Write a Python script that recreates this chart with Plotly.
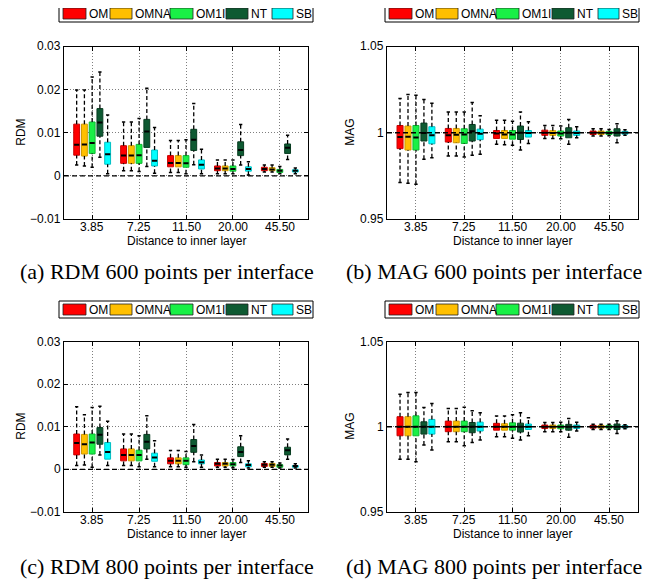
import plotly.graph_objects as go

W, H = 667, 585
OFF = 8  # page body margin that shifts the figure inside the browser window

SERIES = ["OM", "OMNA", "OM1I", "NT", "SB"]
COLORS = ["#FF0000", "#FFBF00", "#19F046", "#0E5A32", "#00FFFF"]
EDGES = ["#C80000", "#D09A00", "#10B834", "#083D21", "#00BFC4"]
GROUP_LABELS = ["3.85", "7.25", "11.50", "20.00", "45.50"]
RDM_TICKS = [-0.01, 0, 0.01, 0.02, 0.03]
RDM_TICKTEXT = ["\u22120.01", "0", "0.01", "0.02", "0.03"]
MAG_TICKS = [0.95, 1.0, 1.05]
MAG_TICKTEXT = ["0.95", "1", "1.05"]

# ---- (a) RDM, 600 points: rows = series (OM, OMNA, OM1I, NT, SB), cols = distance groups
RDM600_LO = [[0.0025, 0.0012, 0.0008, 0.0005, 0.0009],
             [0.0023, 0.0012, 0.0008, 0.0005, 0.0009],
             [0.0020, 0.0010, 0.0005, 0.0005, 0.0005],
             [0.0043, 0.0022, 0.0026, 0.0025, 0.0038],
             [0.0005, 0.0006, 0.0005, 0.0002, 0.0005]]
RDM600_Q1 = [[0.0048, 0.0029, 0.0021, 0.0012, 0.0012],
             [0.0046, 0.0029, 0.0021, 0.0012, 0.0012],
             [0.0052, 0.0029, 0.0020, 0.0011, 0.0008],
             [0.0092, 0.0066, 0.0059, 0.0047, 0.0052],
             [0.0027, 0.0023, 0.0016, 0.0011, 0.0009]]
RDM600_MED = [[0.0072, 0.0047, 0.0030, 0.0017, 0.0016],
              [0.0073, 0.0047, 0.0030, 0.0017, 0.0015],
              [0.0076, 0.0048, 0.0029, 0.0016, 0.0012],
              [0.0124, 0.0103, 0.0084, 0.0060, 0.0065],
              [0.0050, 0.0035, 0.0026, 0.0016, 0.0012]]
RDM600_Q3 = [[0.0120, 0.0070, 0.0047, 0.0023, 0.0020],
             [0.0120, 0.0070, 0.0047, 0.0023, 0.0019],
             [0.0125, 0.0073, 0.0047, 0.0023, 0.0015],
             [0.0156, 0.0131, 0.0108, 0.0079, 0.0074],
             [0.0078, 0.0060, 0.0037, 0.0021, 0.0014]]
RDM600_HI = [[0.0199, 0.0125, 0.0082, 0.0037, 0.0025],
             [0.0199, 0.0125, 0.0082, 0.0037, 0.0025],
             [0.0229, 0.0133, 0.0084, 0.0037, 0.0022],
             [0.0241, 0.0203, 0.0168, 0.0119, 0.0094],
             [0.0141, 0.0112, 0.0062, 0.0033, 0.0018]]

# ---- (b) MAG, 600 points
MAG600_LO = [[0.9711, 0.9865, 0.9933, 0.9967, 0.9981],
             [0.9707, 0.9865, 0.9930, 0.9967, 0.9981],
             [0.9701, 0.9859, 0.9927, 0.9965, 0.9983],
             [0.9846, 0.9869, 0.9900, 0.9933, 0.9942],
             [0.9855, 0.9875, 0.9938, 0.9971, 0.9985]]
MAG600_Q1 = [[0.9908, 0.9946, 0.9967, 0.9985, 0.9990],
             [0.9900, 0.9942, 0.9967, 0.9985, 0.9990],
             [0.9900, 0.9938, 0.9963, 0.9981, 0.9990],
             [0.9952, 0.9952, 0.9961, 0.9971, 0.9981],
             [0.9936, 0.9960, 0.9975, 0.9985, 0.9992]]
MAG600_MED = [[0.9975, 0.9985, 0.9996, 1.0000, 1.0000],
              [0.9977, 0.9988, 0.9990, 0.9998, 1.0000],
              [0.9973, 0.9990, 0.9990, 0.9996, 0.9998],
              [0.9998, 1.0008, 1.0000, 1.0000, 1.0000],
              [0.9985, 0.9994, 0.9998, 0.9998, 1.0000]]
MAG600_Q3 = [[1.0042, 1.0025, 1.0013, 1.0015, 1.0010],
             [1.0039, 1.0025, 1.0013, 1.0012, 1.0010],
             [1.0042, 1.0023, 1.0013, 1.0010, 1.0008],
             [1.0056, 1.0048, 1.0039, 1.0029, 1.0023],
             [1.0035, 1.0021, 1.0013, 1.0010, 1.0008]]
MAG600_HI = [[1.0198, 1.0121, 1.0073, 1.0042, 1.0023],
             [1.0222, 1.0121, 1.0073, 1.0042, 1.0023],
             [1.0218, 1.0120, 1.0067, 1.0039, 1.0019],
             [1.0193, 1.0175, 1.0121, 1.0077, 1.0052],
             [1.0171, 1.0098, 1.0064, 1.0035, 1.0017]]

# ---- (c) RDM, 800 points
RDM800_LO = [[0.0009, 0.0009, 0.0006, 0.0005, 0.0005],
             [0.0010, 0.0009, 0.0006, 0.0005, 0.0005],
             [0.0005, 0.0006, 0.0005, 0.0004, 0.0003],
             [0.0034, 0.0024, 0.0018, 0.0016, 0.0024],
             [0.0009, 0.0006, 0.0005, 0.0003, 0.0003]]
RDM800_Q1 = [[0.0034, 0.0020, 0.0013, 0.0008, 0.0007],
             [0.0036, 0.0020, 0.0013, 0.0008, 0.0007],
             [0.0036, 0.0020, 0.0011, 0.0008, 0.0005],
             [0.0059, 0.0048, 0.0040, 0.0030, 0.0034],
             [0.0024, 0.0019, 0.0013, 0.0006, 0.0005]]
RDM800_MED = [[0.0062, 0.0034, 0.0020, 0.0013, 0.0011],
              [0.0059, 0.0034, 0.0020, 0.0013, 0.0011],
              [0.0063, 0.0034, 0.0020, 0.0012, 0.0009],
              [0.0081, 0.0065, 0.0055, 0.0041, 0.0045],
              [0.0041, 0.0028, 0.0017, 0.0010, 0.0008]]
RDM800_Q3 = [[0.0083, 0.0048, 0.0027, 0.0016, 0.0014],
             [0.0082, 0.0048, 0.0027, 0.0016, 0.0014],
             [0.0083, 0.0045, 0.0027, 0.0016, 0.0011],
             [0.0098, 0.0082, 0.0070, 0.0053, 0.0052],
             [0.0063, 0.0038, 0.0022, 0.0013, 0.0009]]
RDM800_HI = [[0.0147, 0.0083, 0.0044, 0.0024, 0.0018],
             [0.0128, 0.0083, 0.0044, 0.0024, 0.0018],
             [0.0145, 0.0079, 0.0042, 0.0023, 0.0015],
             [0.0148, 0.0126, 0.0105, 0.0079, 0.0071],
             [0.0113, 0.0067, 0.0034, 0.0020, 0.0013]]

# ---- (d) MAG, 800 points
MAG800_LO = [[0.9809, 0.9912, 0.9941, 0.9971, 0.9984],
             [0.9809, 0.9912, 0.9941, 0.9971, 0.9984],
             [0.9795, 0.9889, 0.9932, 0.9971, 0.9984],
             [0.9893, 0.9908, 0.9922, 0.9938, 0.9961],
             [0.9863, 0.9922, 0.9947, 0.9975, 0.9988]]
MAG800_Q1 = [[0.9947, 0.9971, 0.9980, 0.9990, 0.9992],
             [0.9947, 0.9971, 0.9980, 0.9990, 0.9992],
             [0.9947, 0.9971, 0.9980, 0.9988, 0.9992],
             [0.9957, 0.9965, 0.9969, 0.9980, 0.9984],
             [0.9957, 0.9975, 0.9984, 0.9990, 0.9994]]
MAG800_MED = [[1.0, 1.0, 1.0, 1.0, 1.0],
              [1.0, 1.0, 1.0, 1.0, 1.0],
              [1.0, 1.0, 1.0, 1.0, 1.0],
              [1.0, 1.0, 1.0, 1.0, 1.0],
              [1.0, 1.0, 1.0, 1.0, 1.0]]
MAG800_Q3 = [[1.0059, 1.0033, 1.0020, 1.0010, 1.0008],
             [1.0059, 1.0033, 1.0018, 1.0010, 1.0008],
             [1.0064, 1.0033, 1.0023, 1.0010, 1.0008],
             [1.0029, 1.0025, 1.0021, 1.0014, 1.0016],
             [1.0043, 1.0027, 1.0016, 1.0010, 1.0006]]
MAG800_HI = [[1.0191, 1.0107, 1.0063, 1.0025, 1.0014],
             [1.0201, 1.0107, 1.0063, 1.0025, 1.0014],
             [1.0201, 1.0115, 1.0070, 1.0027, 1.0014],
             [1.0113, 1.0094, 1.0082, 1.0049, 1.0035],
             [1.0137, 1.0082, 1.0053, 1.0027, 1.0012]]

CAPTIONS = ["(a) RDM 600 points per interface", "(b) MAG 600 points per interface",
            "(c) RDM 800 points per interface", "(d) MAG 800 points per interface"]
YLABELS = ["RDM", "MAG", "RDM", "MAG"]
XLABEL = "Distance to inner layer"

# ------------------------------------------------------------------
SANS = "Liberation Sans, Arial, sans-serif"
SERIF = "Liberation Serif, Times New Roman, serif"

def fx(p):
    return (p - OFF) / W

def fy(p):
    return 1 - (p - OFF) / H

# pixel geometry of panels in the window: (left, right, top, bottom)
PANELS = [
    dict(box=(64, 308, 46.5, 219), ref="", ylab_dx=43),
    dict(box=(387, 638, 46.5, 219), ref="2", ylab_dx=37),
    dict(box=(64, 308, 341.5, 512), ref="3", ylab_dx=43),
    dict(box=(387, 638, 341.5, 512), ref="4", ylab_dx=37),
]
DATA = [
    (RDM600_LO, RDM600_Q1, RDM600_MED, RDM600_Q3, RDM600_HI),
    (MAG600_LO, MAG600_Q1, MAG600_MED, MAG600_Q3, MAG600_HI),
    (RDM800_LO, RDM800_Q1, RDM800_MED, RDM800_Q3, RDM800_HI),
    (MAG800_LO, MAG800_Q1, MAG800_MED, MAG800_Q3, MAG800_HI),
]
IS_MAG = [False, True, False, True]
LEGEND_POS = [(59, 5), (385, 5), (59, 301), (385, 301)]
CAPTION_POS = [(167, 271), (494, 271), (167, 566), (494, 566)]

D = 0.165     # spacing between boxes within a group
BW = 0.125    # box width
CAP = 0.035
MEDW = 0.055

fig = go.Figure()

for k, (panel, data) in enumerate(zip(PANELS, DATA)):
    xa, ya = "x" + panel["ref"], "y" + panel["ref"]
    lo, q1, med, q3, hi = data
    for s, name in enumerate(SERIES):
        off = (s - 2) * D
        xs = [g + 1 + off for g in range(len(GROUP_LABELS))]
        wx, wy, cx, cy, mx, my = [], [], [], [], [], []
        for g, x in enumerate(xs):
            wx += [x, x, None, x, x, None]
            wy += [q3[s][g], hi[s][g], None, lo[s][g], q1[s][g], None]
            cx += [x - CAP, x + CAP, None, x - CAP, x + CAP, None]
            cy += [hi[s][g], hi[s][g], None, lo[s][g], lo[s][g], None]
            mx += [x - MEDW, x + MEDW, None]
            my += [med[s][g], med[s][g], None]
        fig.add_trace(go.Scatter(x=wx, y=wy, mode="lines", xaxis=xa, yaxis=ya,
                                 line=dict(color="black", width=1.3, dash="4px,2.5px"),
                                 showlegend=False, hoverinfo="skip"))
        fig.add_trace(go.Bar(x=xs, y=[q3[s][g] - q1[s][g] for g in range(len(xs))],
                             base=q1[s], width=BW, xaxis=xa, yaxis=ya, name=name,
                             marker=dict(color=COLORS[s], line=dict(color=EDGES[s], width=1)),
                             showlegend=False))
        fig.add_trace(go.Scatter(x=mx, y=my, mode="lines", xaxis=xa, yaxis=ya,
                                 line=dict(color="black", width=2),
                                 showlegend=False, hoverinfo="skip"))
        fig.add_trace(go.Scatter(x=cx, y=cy, mode="lines", xaxis=xa, yaxis=ya,
                                 line=dict(color="black", width=1.5),
                                 showlegend=False, hoverinfo="skip"))

layout = dict(
    width=W, height=H, margin=dict(l=0, r=0, t=0, b=0),
    paper_bgcolor="white", plot_bgcolor="white", barmode="overlay",
    showlegend=False, font=dict(family=SANS, size=12, color="black"),
)

GRID = dict(showgrid=True, gridcolor="rgba(0,0,0,0.5)", griddash="1px,2px", gridwidth=1,
            ticks="inside", ticklen=4, tickcolor="black", showticklabels=False,
            showline=True, linecolor="black", linewidth=1.2, mirror="ticks", zeroline=False)

shapes, annotations = [], []
for k, panel in enumerate(PANELS):
    l, r, t, b = panel["box"]
    ref = panel["ref"]
    mag = IS_MAG[k]
    yticks = MAG_TICKS if mag else RDM_TICKS
    ytext = MAG_TICKTEXT if mag else RDM_TICKTEXT
    layout["xaxis" + ref] = dict(domain=[fx(l), fx(r)], range=[0.4, 5.6], anchor="y" + ref,
                                 tickvals=[1, 2, 3, 4, 5], **GRID)
    layout["yaxis" + ref] = dict(domain=[fy(b), fy(t)], anchor="x" + ref,
                                 range=[0.95, 1.05] if mag else [-0.01, 0.03],
                                 tickvals=yticks, **GRID)
    # tick labels
    for g, lab in enumerate(GROUP_LABELS):
        annotations.append(dict(x=g + 1, y=fy(b + 7.5), xref="x" + ref, yref="paper",
                                text=lab, showarrow=False, xanchor="center", yanchor="middle",
                                borderpad=0, font=dict(size=12, family=SANS)))
    for v, lab in zip(yticks, ytext):
        annotations.append(dict(x=fx(l - 2.5), y=v, xref="paper", yref="y" + ref,
                                text=lab, showarrow=False, xanchor="right", yanchor="middle",
                                borderpad=0, font=dict(size=12, family=SANS)))
    # reference dashed line
    ref_val = 1.0 if mag else 0.0
    shapes.append(dict(type="line", xref=("x" + ref) + " domain", yref="y" + ref,
                       x0=0, x1=1, y0=ref_val, y1=ref_val, layer="above",
                       line=dict(color="black", width=1.4, dash="5px,3px")))
    # axis titles
    annotations.append(dict(x=fx((l + r) / 2), y=fy(b + 22), xref="paper", yref="paper",
                            text=XLABEL, showarrow=False, xanchor="center", yanchor="middle",
                            borderpad=0, font=dict(size=12, family=SANS)))
    annotations.append(dict(x=fx(l - panel["ylab_dx"]), y=fy((t + b) / 2), xref="paper", yref="paper",
                            text=YLABELS[k], showarrow=False, textangle=-90,
                            xanchor="center", yanchor="middle", font=dict(size=12, family=SANS)))
    # caption
    cxp, cyp = CAPTION_POS[k]
    annotations.append(dict(x=fx(cxp), y=fy(cyp), xref="paper", yref="paper",
                            text=CAPTIONS[k], showarrow=False, xanchor="center", yanchor="middle",
                            font=dict(size=22, family=SERIF)))
    # legend box
    lx, ly = LEGEND_POS[k]
    shapes.append(dict(type="rect", xref="paper", yref="paper",
                       x0=fx(lx), x1=fx(lx + 254), y0=fy(ly + 17), y1=fy(ly),
                       line=dict(color="black", width=1), fillcolor="white", layer="above"))
    sw_off = [4, 51, 111, 167, 213]
    sw_w = [23, 22, 23, 22, 21]
    for s, name in enumerate(SERIES):
        x0 = lx + sw_off[s]
        shapes.append(dict(type="rect", xref="paper", yref="paper",
                           x0=fx(x0), x1=fx(x0 + sw_w[s]), y0=fy(ly + 14), y1=fy(ly + 3),
                           line=dict(color="#222", width=0.8), fillcolor=COLORS[s], layer="above"))
        annotations.append(dict(x=fx(x0 + sw_w[s] + 1), y=fy(ly + 8.7), xref="paper", yref="paper",
                                text=name, showarrow=False, xanchor="left", yanchor="middle",
                                font=dict(size=12, family=SANS)))

layout["shapes"] = shapes
layout["annotations"] = annotations
fig.update_layout(**layout)

fig.write_html("out.html")
